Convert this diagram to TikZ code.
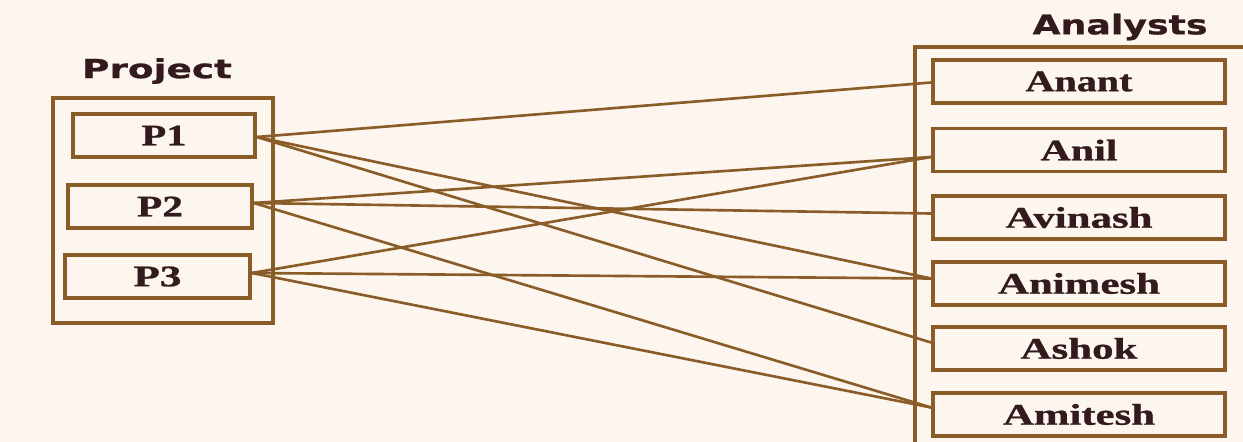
\documentclass[tikz,border=0pt]{standalone}
\usepackage{graphicx}
\usepackage{fontspec}
\newfontfamily\headfont{DejaVu Sans}[BoldFeatures={FakeBold=0.6}]
\newfontfamily\boxfont{Liberation Serif}[BoldFeatures={FakeBold=0.8}]
\definecolor{paper}{RGB}{252,246,238}
\definecolor{brownline}{RGB}{138,92,40}
\definecolor{ink}{RGB}{50,26,30}
\newcommand\wt[2]{\resizebox{#1}{\height}{#2}}
\tikzset{
  pbox/.style={draw=brownline, line width=2.2pt, minimum height=0.86cm, inner sep=0pt,
    text=ink, font=\boxfont\bfseries\fontsize{17}{19}\selectfont},
  abox/.style={pbox, minimum width=5.84cm},
  head/.style={text=ink, inner sep=0pt},
  link/.style={draw=brownline, line width=1.5pt},
  frame/.style={draw=brownline, line width=2.2pt}
}
\begin{document}
\begin{tikzpicture}[x=0.02cm, y=-0.02cm]
\useasboundingbox (0,0) rectangle (1243,442);
\fill[paper] (0,0) rectangle (1243,442);
% headers
\node[head, font=\headfont\bfseries\fontsize{15}{17}\selectfont] (projlabel) at (157,71) {\wt{3.0cm}{Project}};
\node[head, font=\headfont\bfseries\fontsize{15.5}{17}\selectfont] (analabel) at (1120,27) {\wt{3.5cm}{Analysts}};
% outer frames
\node[frame, minimum width=4.4cm, minimum height=4.5cm, inner sep=0pt] (projframe) at (163,210.5) {};
\coordinate (af1) at (915,442);
\coordinate (af2) at (915,47);
\coordinate (af3) at (1243,47);
\draw[frame] (af1) -- (af2) -- (af3);
% project boxes
\node[pbox, minimum width=3.64cm] (p1) at (164,135.5) {\wt{0.9cm}{P1}};
\node[pbox, minimum width=3.68cm] (p2) at (160,206.5) {\wt{0.92cm}{P2}};
\node[pbox, minimum width=3.70cm] (p3) at (157.5,276.5) {\wt{0.96cm}{P3}};
% analyst boxes
\node[abox] (anant)   at (1079,81.5)  {\wt{2.14cm}{Anant}};
\node[abox] (anil)    at (1079,150)   {\wt{1.54cm}{Anil}};
\node[abox] (avinash) at (1079,217.5) {\wt{2.94cm}{Avinash}};
\node[abox] (animesh) at (1079,283.5) {\wt{3.24cm}{Animesh}};
\node[abox] (ashok)   at (1079,348.5) {\wt{2.34cm}{Ashok}};
\node[abox] (amitesh) at (1079,414.5) {\wt{3.04cm}{Amitesh}};
% connectors
\draw[link] ([yshift=-0.03cm]p1.east) -- ([yshift=-0.02cm]anant.west);
\draw[link] ([yshift=-0.03cm]p1.east) -- ([yshift=0.10cm]animesh.west);
\draw[link] ([yshift=-0.03cm]p1.east) -- ([yshift=0.12cm]ashok.west);
\draw[link] ([yshift=0.07cm]p2.east) -- ([yshift=-0.14cm]anil.west);
\draw[link] ([yshift=0.07cm]p2.east) -- ([yshift=0.08cm]avinash.west);
\draw[link] ([yshift=0.07cm]p2.east) -- ([yshift=0.14cm]amitesh.west);
\draw[link] ([yshift=0.07cm]p3.east) -- ([yshift=-0.14cm]anil.west);
\draw[link] ([yshift=0.07cm]p3.east) -- ([yshift=0.10cm]animesh.west);
\draw[link] ([yshift=0.07cm]p3.east) -- ([yshift=0.14cm]amitesh.west);
\end{tikzpicture}
\end{document}
